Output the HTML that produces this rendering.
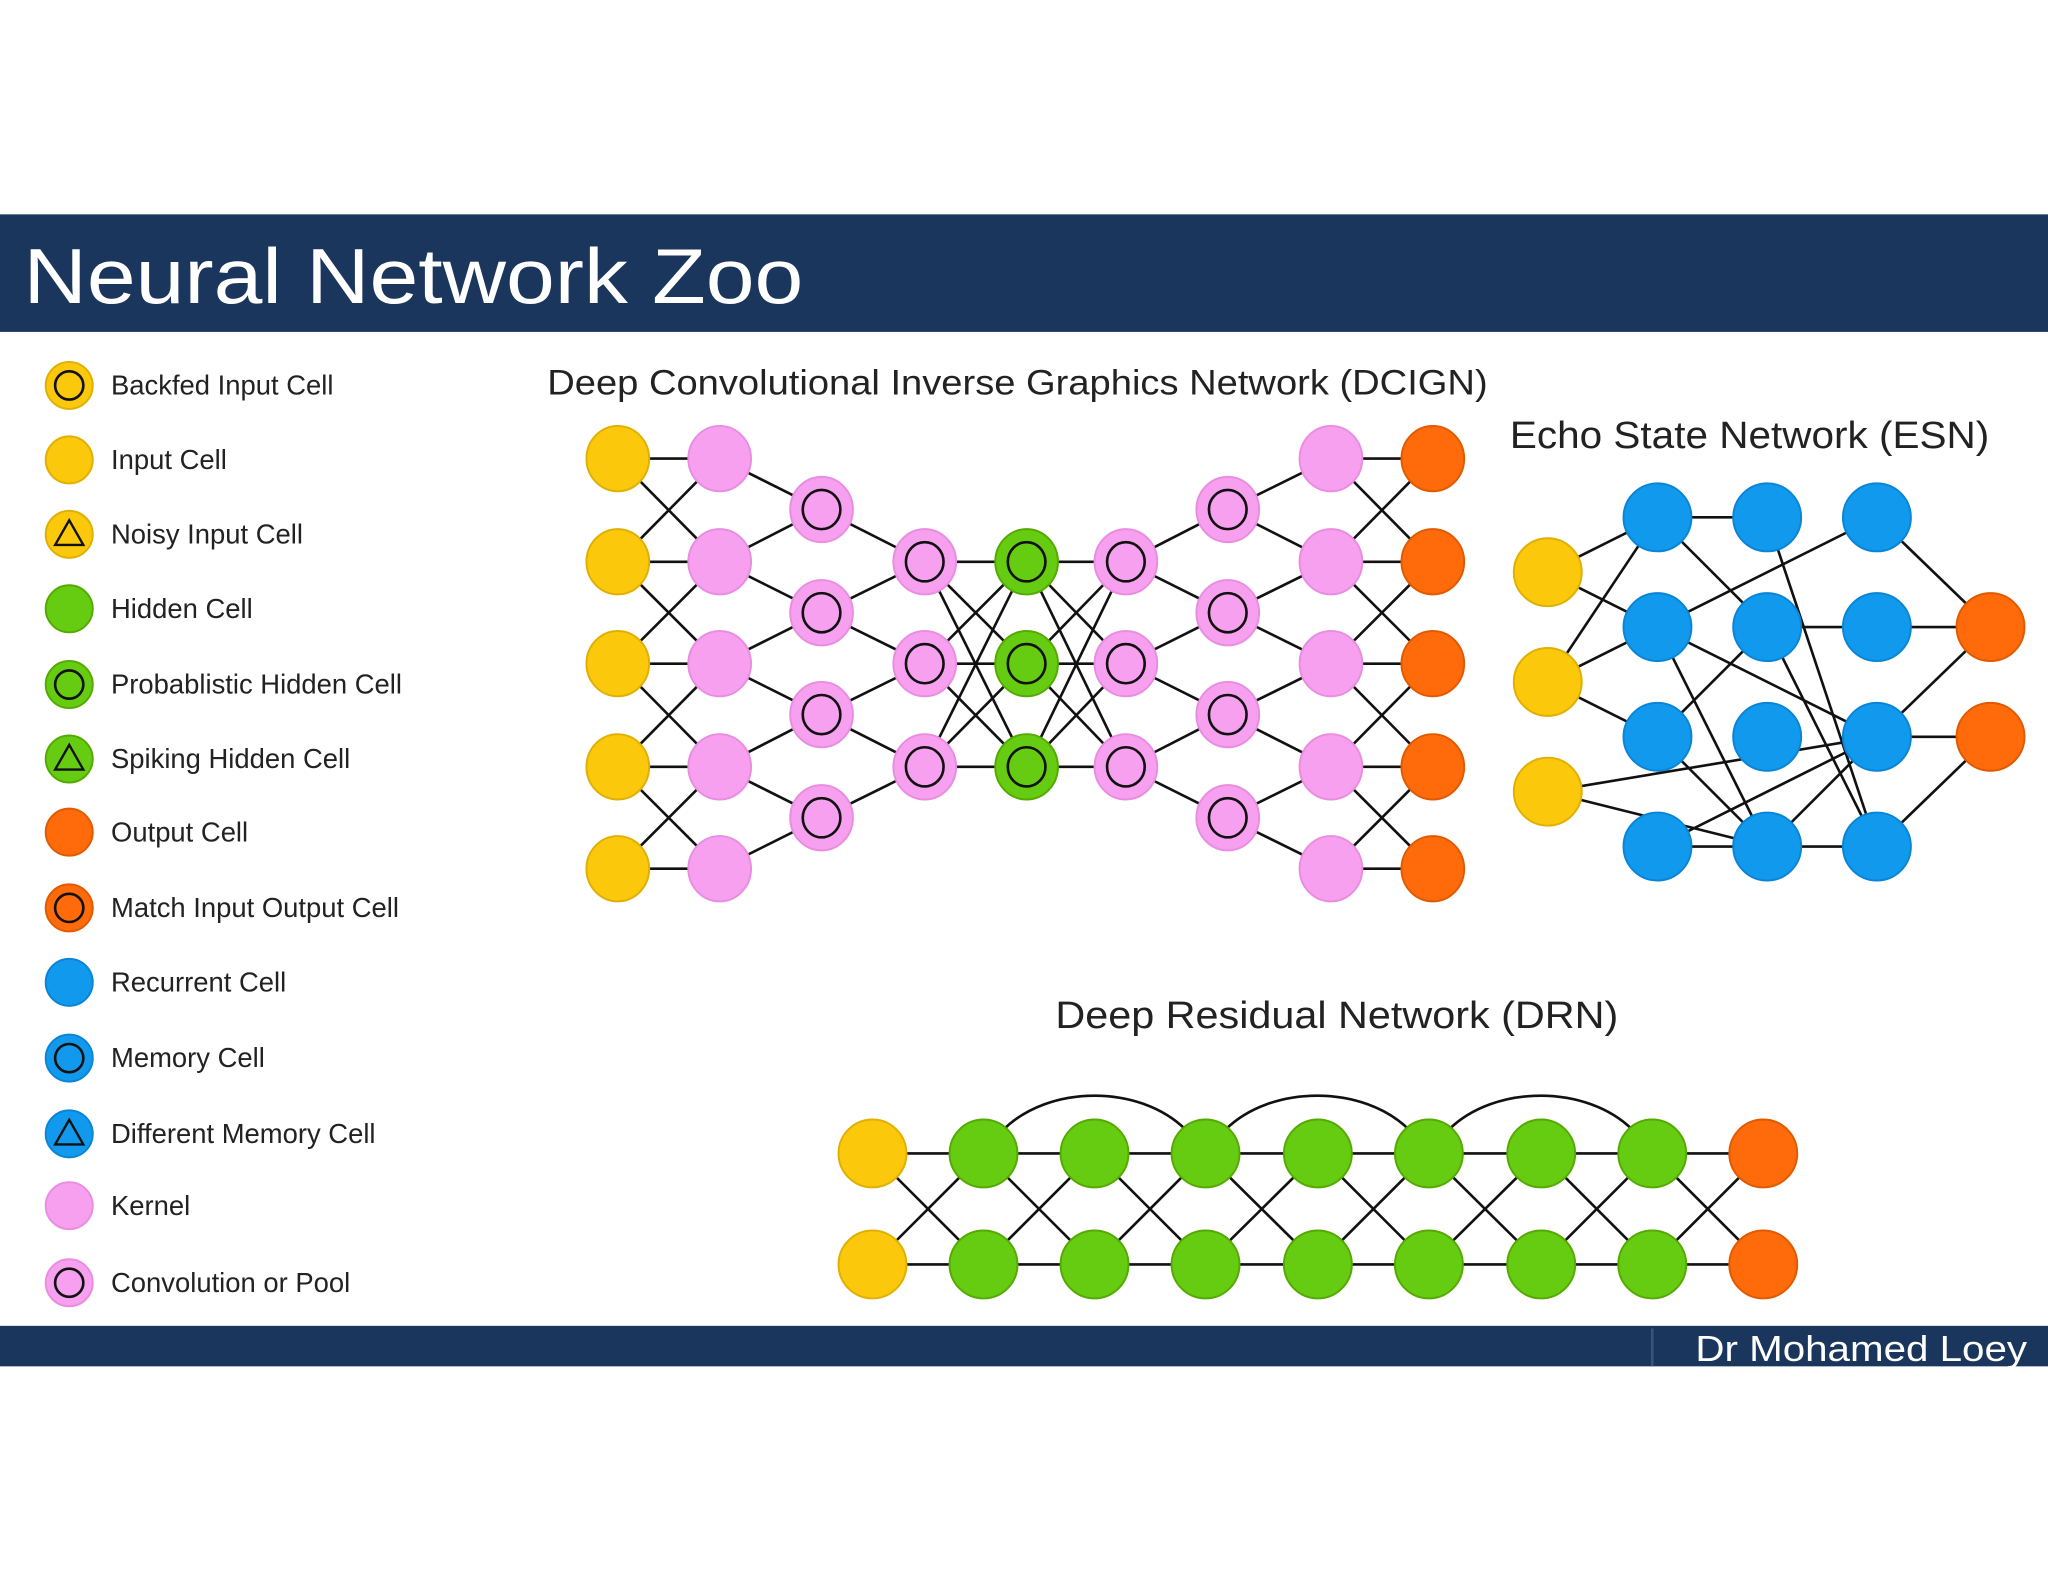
<!DOCTYPE html>
<html><head><meta charset="utf-8"><style>
html,body{margin:0;padding:0;background:#fff;}
svg{display:block;}
text{font-family:"Liberation Sans",sans-serif;}
</style></head><body>
<svg id="s" width="2048" height="1582" viewBox="0 0 1568 1211" xmlns="http://www.w3.org/2000/svg">
<rect x="0" y="0" width="1568" height="1211" fill="#fff"/>
<rect x="0" y="164" width="1568" height="90" fill="#1b365d"/>
<text x="18" y="232" font-size="60" fill="#fff" textLength="597" lengthAdjust="spacingAndGlyphs">Neural Network Zoo</text>
<rect x="0" y="1015" width="1568" height="31" fill="#1b365d"/>
<line x1="1265" y1="1017" x2="1265" y2="1046" stroke="#3a5478" stroke-width="2"/>
<text x="1552" y="1042" font-size="28" fill="#fff" text-anchor="end" textLength="254" lengthAdjust="spacingAndGlyphs">Dr Mohamed Loey</text>
<text x="419" y="302" font-size="27" fill="#222" textLength="720" lengthAdjust="spacingAndGlyphs">Deep Convolutional Inverse Graphics Network (DCIGN)</text>
<text x="1156" y="343" font-size="29" fill="#222" textLength="367" lengthAdjust="spacingAndGlyphs">Echo State Network (ESN)</text>
<text x="808" y="787" font-size="29" fill="#222" textLength="431" lengthAdjust="spacingAndGlyphs">Deep Residual Network (DRN)</text>
<g font-size="21" fill="#222">
<text x="85" y="302">Backfed Input Cell</text>
<text x="85" y="359">Input Cell</text>
<text x="85" y="416">Noisy Input Cell</text>
<text x="85" y="473">Hidden Cell</text>
<text x="85" y="531">Probablistic Hidden Cell</text>
<text x="85" y="588">Spiking Hidden Cell</text>
<text x="85" y="644">Output Cell</text>
<text x="85" y="702">Match Input Output Cell</text>
<text x="85" y="759">Recurrent Cell</text>
<text x="85" y="817">Memory Cell</text>
<text x="85" y="875">Different Memory Cell</text>
<text x="85" y="930">Kernel</text>
<text x="85" y="989">Convolution or Pool</text>
</g>
<g id="lines" stroke="#111" stroke-width="2" fill="none"></g>
<g id="nodes"></g>
</svg>
<script>
var NS="http://www.w3.org/2000/svg";
var L=document.getElementById('lines'),N=document.getElementById('nodes');
function el(p,t,a){var e=document.createElementNS(NS,t);for(var k in a)e.setAttribute(k,a[k]);p.appendChild(e);return e;}
function ln(a,b){el(L,'line',{x1:a[0],y1:a[1],x2:b[0],y2:b[1]});}
var C={y:['#fcc80c','#e0b000'],p:['#f8a0f0','#e88de0'],g:['#66cc11','#55aa00'],o:['#ff6a0a','#e05a00'],b:['#1199ee','#0a85d5']};
function node(x,y,c,rx,ry,inner){el(N,'ellipse',{cx:x,cy:y,rx:rx,ry:ry,fill:C[c][0],stroke:C[c][1],'stroke-width':1.5});
 if(inner=='c')el(N,'ellipse',{cx:x,cy:y,rx:rx*0.6,ry:ry*0.6,fill:'none',stroke:'#111','stroke-width':2});
 if(inner=='t'){var s=rx*0.6;el(N,'polygon',{points:(x)+','+(y-s)+' '+(x-s)+','+(y+s*0.75)+' '+(x+s)+','+(y+s*0.75),fill:'none',stroke:'#111','stroke-width':1.8});}}
var leg=[[295,'y','c'],[352,'y',''],[409,'y','t'],[466,'g',''],[524,'g','c'],[581,'g','t'],[637,'o',''],[695,'o','c'],[752,'b',''],[810,'b','c'],[868,'b','t'],[923,'p',''],[982,'p','c']];
leg.forEach(function(l){node(53,l[0],l[1],18,18,l[2]);});
var xs=[473,551,629,708,786,862,940,1019,1097];
var r5=[351,430,508,587,665],r4=[390,469,547,626],r3=[430,508,587];
var cols=[r5,r5,r4,r3,r3,r3,r4,r5,r5];
function P(c,i){return [xs[c],cols[c][i]];}
function link(a,b){var A=cols[a],B=cols[b];
 if(A.length==B.length&&A.length==3){for(var i=0;i<3;i++)for(var j=0;j<3;j++)ln(P(a,i),P(b,j));return;}
 if(A.length==B.length){for(var i=0;i<A.length;i++){ln(P(a,i),P(b,i));if(i+1<A.length){ln(P(a,i),P(b,i+1));ln(P(a,i+1),P(b,i));}}return;}
 var big=A.length>B.length?a:b,sm=big==a?b:a;
 for(var j=0;j<cols[sm].length;j++){ln(P(sm,j),P(big,j));ln(P(sm,j),P(big,j+1));}}
for(var c=0;c<8;c++)link(c,c+1);
var cc=['y','p','p','p','g','p','p','p','o'],ii=['','','c','c','c','c','c','',''];
for(var c=0;c<9;c++)for(var i=0;i<cols[c].length;i++)node(xs[c],cols[c][i],cc[c],24,25,ii[c]);
var I=[[1185,438],[1185,522],[1185,606]];
var ex=[1269,1353,1437],ey=[396,480,564,648];
function E(c,r){return [ex[c],ey[r]];}
var O=[[1524,480],[1524,564]];
var A=function(r){return E(0,r)},B=function(r){return E(1,r)},Cc=function(r){return E(2,r)};
[[I[0],A(0)],[I[0],A(1)],[I[1],A(0)],[I[1],A(1)],[I[1],A(2)],[I[2],Cc(2)],[I[2],B(3)],
[A(0),B(0)],[A(0),B(1)],[A(1),Cc(0)],[A(1),Cc(2)],[A(1),B(3)],[A(2),B(1)],[A(2),B(3)],[A(3),B(3)],[A(3),Cc(2)],
[B(0),Cc(3)],[B(1),Cc(1)],[B(1),Cc(3)],[B(3),Cc(2)],[B(3),Cc(3)],
[Cc(0),O[0]],[Cc(1),O[0]],[Cc(2),O[0]],[Cc(2),O[1]],[Cc(3),O[1]]].forEach(function(p){ln(p[0],p[1]);});
I.forEach(function(p){node(p[0],p[1],'y',26,26,'');});
for(var c=0;c<3;c++)for(var r=0;r<4;r++)node(ex[c],ey[r],'b',26,26,'');
O.forEach(function(p){node(p[0],p[1],'o',26,26,'');});
var dx=[668,753,838,923,1009,1094,1180,1265,1350],dy=[883,968];
for(var c=0;c<8;c++){ln([dx[c],dy[0]],[dx[c+1],dy[0]]);ln([dx[c],dy[1]],[dx[c+1],dy[1]]);ln([dx[c],dy[0]],[dx[c+1],dy[1]]);ln([dx[c],dy[1]],[dx[c+1],dy[0]]);}
[[1,3],[3,5],[5,7]].forEach(function(p){var a=dx[p[0]],b=dx[p[1]];el(L,'path',{d:'M'+(a+15)+',865 C'+(a+50)+',830 '+(b-50)+',830 '+(b-15)+',865'});});
for(var c=0;c<9;c++)for(var r=0;r<2;r++)node(dx[c],dy[r],c==0?'y':(c==8?'o':'g'),26,26,'');
</script>
</body></html>
